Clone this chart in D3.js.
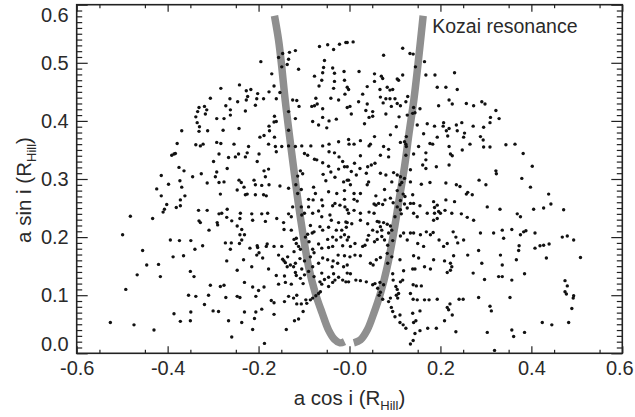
<!DOCTYPE html>
<html>
<head>
<meta charset="utf-8">
<script src="https://cdn.jsdelivr.net/npm/d3@7"></script>
<style>
  body { margin: 0; background: #fff; }
  svg text { font-family: "Liberation Sans", Arial, Helvetica, sans-serif; fill: #2a2a2a; }
</style>
</head>
<body>
<div id="chart"></div>
<script>
// axis ticks and labels
var xTicks = [-0.6, -0.4, -0.2, 0.0, 0.2, 0.4, 0.6];
var xTickLabels = ["-0.6", "-0.4", "-0.2", "-0.0", "0.2", "0.4", "0.6"];
var yTicks = [0.0, 0.1, 0.2, 0.3, 0.4, 0.5, 0.6];
var yTickLabels = ["0.0", "0.1", "0.2", "0.3", "0.4", "0.5", "0.6"];

// Kozai resonance boundary, two branches [a cos i, a sin i]
var kozaiLeft = [[-0.165, 0.581], [-0.156, 0.539], [-0.149, 0.493], [-0.1415, 0.436], [-0.1327, 0.379],
  [-0.1232, 0.321], [-0.1136, 0.264], [-0.1026, 0.2065], [-0.090, 0.149], [-0.075, 0.103],
  [-0.060, 0.069], [-0.046, 0.040], [-0.033, 0.024], [-0.021, 0.018], [-0.011, 0.020]];
var kozaiRight = [[0.162, 0.581], [0.158, 0.551], [0.150, 0.493], [0.1415, 0.436], [0.131, 0.379],
  [0.121, 0.321], [0.109, 0.264], [0.097, 0.2065], [0.083, 0.149], [0.068, 0.103],
  [0.0535, 0.069], [0.039, 0.040], [0.024, 0.023], [0.0095, 0.018]];

// particles [a cos i, a sin i] (left half)
var pointsLeft = [
  [-0.008,0.535],[-0.022,0.532],[-0.048,0.531],[-0.066,0.528],[-0.035,0.523],[-0.119,0.521],[-0.132,0.518],[-0.147,0.516],
  [-0.156,0.509],[-0.134,0.506],[-0.055,0.504],[-0.195,0.502],[-0.137,0.497],[-0.057,0.492],[-0.149,0.493],[-0.037,0.491],[-0.112,0.489],
  [-0.012,0.485],[-0.059,0.483],[-0.033,0.482],[-0.171,0.481],[-0.077,0.477],[-0.061,0.470],[-0.033,0.468],[-0.011,0.470],
  [-0.242,0.462],[-0.166,0.460],[-0.067,0.460],[-0.283,0.456],[-0.035,0.456],[-0.002,0.454],[-0.217,0.454],[-0.227,0.452],
  [-0.177,0.450],[-0.202,0.447],[-0.153,0.449],[-0.010,0.446],[-0.224,0.442],[-0.306,0.439],[-0.263,0.438],[-0.189,0.438],
  [-0.161,0.438],[-0.204,0.438],[-0.074,0.439],[-0.041,0.439],[-0.227,0.436],[-0.125,0.436],[-0.116,0.435],[-0.024,0.436],
  [-0.246,0.433],[-0.071,0.429],[-0.207,0.427],[-0.272,0.426],[-0.077,0.426],[-0.083,0.425],[-0.111,0.425],[-0.319,0.425],
  [-0.005,0.423],[-0.331,0.423],[-0.059,0.421],[-0.229,0.417],[-0.262,0.419],[-0.314,0.419],[-0.334,0.416],[-0.134,0.416],
  [-0.317,0.412],[-0.262,0.410],[-0.165,0.408],[-0.338,0.407],[-0.059,0.406],[-0.292,0.404],[-0.276,0.404],[-0.119,0.404],
  [-0.029,0.403],[-0.166,0.398],[-0.161,0.399],[-0.335,0.397],[-0.081,0.399],[-0.045,0.400],[-0.068,0.393],[-0.330,0.390],
  [-0.177,0.391],[-0.243,0.387],[-0.050,0.388],[-0.176,0.383],[-0.134,0.384],[-0.369,0.383],[-0.331,0.382],[-0.312,0.383],[-0.278,0.384],
  [-0.165,0.372],[-0.197,0.372],[-0.188,0.375],[-0.178,0.360],[-0.163,0.356],[-0.161,0.347],[-0.149,0.356],[-0.134,0.357],
  [-0.119,0.356],[-0.105,0.357],[-0.099,0.344],[-0.092,0.341],[-0.085,0.357],[-0.059,0.357],[-0.045,0.360],[-0.024,0.364],
  [-0.001,0.360],[-0.379,0.361],[-0.338,0.359],[-0.328,0.357],[-0.322,0.360],[-0.292,0.363],[-0.283,0.361],[-0.287,0.343],
  [-0.254,0.360],[-0.222,0.356],[-0.225,0.345],[-0.199,0.343],[-0.251,0.338],[-0.266,0.337],[-0.299,0.330],[-0.269,0.318],
  [-0.292,0.312],[-0.244,0.343],[-0.229,0.338],[-0.386,0.343],[-0.391,0.341],[-0.383,0.344],[-0.077,0.334],[-0.072,0.333],
  [-0.045,0.347],[-0.033,0.345],[-0.023,0.338],[-0.015,0.330],[-0.011,0.321],[-0.024,0.317],[-0.046,0.322],[-0.059,0.328],
  [-0.375,0.320],[-0.364,0.314],[-0.345,0.304],[-0.326,0.309],[-0.295,0.304],[-0.414,0.306],[-0.424,0.283],[-0.398,0.291],
  [-0.373,0.297],[-0.369,0.286],[-0.313,0.293],[-0.287,0.294],[-0.276,0.295],[-0.243,0.298],[-0.238,0.294],[-0.247,0.281],
  [-0.232,0.286],[-0.225,0.274],[-0.210,0.298],[-0.207,0.290],[-0.188,0.314],[-0.178,0.317],[-0.203,0.330],[-0.185,0.304],
  [-0.193,0.289],[-0.177,0.290],[-0.183,0.271],[-0.189,0.273],[-0.207,0.273],[-0.229,0.273],[-0.284,0.274],[-0.362,0.271],
  [-0.414,0.271],[-0.372,0.264],[-0.153,0.288],[-0.134,0.284],[-0.114,0.305],[-0.108,0.314],[-0.103,0.309],[-0.118,0.290],
  [-0.114,0.275],[-0.106,0.282],[-0.079,0.286],[-0.075,0.275],[-0.080,0.264],[-0.090,0.265],[-0.058,0.308],[-0.052,0.297],
  [-0.041,0.312],[-0.032,0.303],[-0.013,0.295],[-0.002,0.298],[-0.011,0.280],[-0.028,0.275],[-0.046,0.278],[-0.011,0.265],
  [-0.032,0.258],[-0.061,0.264],
  [-0.372,0.254],[-0.381,0.251],[-0.402,0.256],[-0.407,0.248],[-0.410,0.243],[-0.433,0.232],[-0.482,0.236],[-0.332,0.246],
  [-0.331,0.228],[-0.313,0.246],[-0.328,0.225],[-0.287,0.240],[-0.291,0.225],[-0.281,0.241],[-0.269,0.248],[-0.259,0.228],
  [-0.270,0.234],[-0.241,0.232],[-0.240,0.241],[-0.247,0.219],[-0.237,0.213],[-0.215,0.240],[-0.213,0.229],[-0.193,0.240],
  [-0.185,0.227],[-0.180,0.241],[-0.160,0.232],[-0.145,0.225],[-0.134,0.240],[-0.125,0.252],[-0.128,0.235],[-0.128,0.212],
  [-0.144,0.213],[-0.106,0.252],[-0.105,0.238],[-0.099,0.241],[-0.090,0.252],[-0.081,0.241],[-0.068,0.245],[-0.059,0.254],
  [-0.037,0.254],[-0.021,0.255],[-0.010,0.252],[-0.002,0.241],[-0.008,0.226],[-0.024,0.225],[-0.040,0.229],[-0.043,0.238],
  [-0.061,0.235],[-0.065,0.218],[-0.059,0.212],[-0.046,0.217],[-0.029,0.212],[-0.017,0.212],[-0.007,0.217],[-0.086,0.220],
  [-0.078,0.209],[-0.082,0.207],
  [-0.499,0.204],[-0.455,0.177],[-0.446,0.152],[-0.420,0.153],[-0.416,0.132],[-0.467,0.135],[-0.394,0.195],[-0.388,0.166],
  [-0.374,0.194],[-0.365,0.168],[-0.349,0.194],[-0.340,0.179],[-0.323,0.185],[-0.309,0.212],[-0.290,0.221],[-0.273,0.190],
  [-0.262,0.179],[-0.260,0.190],[-0.242,0.189],[-0.237,0.195],[-0.231,0.204],[-0.241,0.204],[-0.219,0.181],[-0.203,0.185],
  [-0.202,0.182],[-0.204,0.169],[-0.199,0.173],[-0.191,0.164],[-0.183,0.184],[-0.181,0.188],[-0.166,0.184],[-0.149,0.184],
  [-0.156,0.169],[-0.147,0.162],[-0.141,0.156],[-0.136,0.166],[-0.122,0.196],[-0.117,0.198],[-0.117,0.189],[-0.112,0.184],
  [-0.122,0.175],[-0.108,0.179],[-0.097,0.200],[-0.092,0.205],[-0.089,0.192],[-0.081,0.179],[-0.078,0.173],[-0.086,0.166],
  [-0.099,0.159],[-0.109,0.163],[-0.119,0.155],[-0.123,0.149],[-0.130,0.152],[-0.137,0.149],[-0.144,0.159],[-0.068,0.188],
  [-0.061,0.181],[-0.048,0.196],[-0.037,0.200],[-0.029,0.195],[-0.019,0.200],[-0.011,0.204],[-0.002,0.200],[-0.015,0.185],
  [-0.037,0.184],[-0.046,0.182],[-0.025,0.169],[-0.011,0.168],[-0.036,0.159],[-0.048,0.161],[-0.059,0.164],[-0.068,0.155],
  [-0.026,0.155],[-0.038,0.149],[-0.013,0.149],
  [-0.270,0.159],[-0.247,0.143],[-0.233,0.161],[-0.215,0.149],[-0.178,0.145],[-0.161,0.134],[-0.143,0.133],[-0.119,0.139],
  [-0.117,0.134],[-0.105,0.145],[-0.099,0.135],[-0.090,0.141],[-0.081,0.149],[-0.078,0.132],[-0.061,0.138],[-0.055,0.127],
  [-0.046,0.131],[-0.035,0.137],[-0.024,0.131],[-0.015,0.126],[-0.008,0.123],[-0.002,0.123],[-0.350,0.141],[-0.342,0.132],
  [-0.306,0.117],[-0.284,0.115],[-0.276,0.117],[-0.231,0.122],[-0.213,0.114],[-0.188,0.114],[-0.200,0.108],[-0.156,0.119],
  [-0.141,0.122],[-0.128,0.119],[-0.108,0.129],[-0.102,0.120],[-0.065,0.123],[-0.061,0.119],[-0.046,0.115],[-0.037,0.122],
  [-0.032,0.126],[-0.492,0.110],[-0.354,0.100],[-0.338,0.098],[-0.310,0.100],[-0.272,0.096],[-0.247,0.098],[-0.241,0.096],
  [-0.206,0.098],[-0.172,0.091],[-0.166,0.087],[-0.143,0.089],[-0.134,0.098],[-0.123,0.095],[-0.116,0.100],[-0.116,0.085],
  [-0.106,0.085],[-0.096,0.092],[-0.094,0.086],[-0.086,0.092],[-0.081,0.095],[-0.074,0.099],[-0.068,0.103],[-0.064,0.106],
  [-0.319,0.084],[-0.300,0.073],[-0.288,0.072],[-0.231,0.071],[-0.206,0.071],[-0.193,0.076],[-0.166,0.067],[-0.102,0.072],
  [-0.386,0.068],[-0.349,0.071],[-0.350,0.056],[-0.372,0.055],[-0.266,0.056],[-0.237,0.053],[-0.209,0.060],[-0.121,0.056],
  [-0.112,0.059],[-0.526,0.053],[-0.474,0.049],[-0.430,0.040],[-0.213,0.041],[-0.139,0.041],[-0.259,0.028],[-0.187,0.017]
];

// particles, right half
var pointsRight = [
  [0.008,0.536],[-0.005,0.535],[0.117,0.525],[0.075,0.513],[0.133,0.516],[0.140,0.515],[0.165,0.502],[0.145,0.493],
  [0.021,0.485],[0.055,0.481],[0.070,0.477],[0.073,0.473],[0.105,0.472],[0.108,0.470],[0.117,0.479],[0.168,0.479],
  [0.188,0.479],[0.231,0.483],[-0.005,0.458],[0.039,0.459],[0.055,0.468],[0.067,0.454],[0.083,0.458],[0.089,0.453],
  [0.095,0.454],[0.193,0.458],[0.212,0.458],[0.237,0.454],
  [0.029,0.446],[0.068,0.441],[0.080,0.438],[0.089,0.438],[0.100,0.438],[0.128,0.442],[0.020,0.433],[0.001,0.425],
  [0.039,0.429],[0.074,0.431],[0.092,0.425],[0.105,0.430],[0.112,0.426],[0.124,0.433],[0.141,0.423],[0.155,0.421],
  [0.196,0.426],[0.219,0.436],[0.226,0.429],[0.257,0.430],[0.273,0.426],[0.291,0.433],[0.298,0.429],[0.004,0.412],
  [0.036,0.418],[0.043,0.406],[0.051,0.408],[0.051,0.416],[0.080,0.412],[0.109,0.407],[0.127,0.410],[0.139,0.413],
  [0.144,0.414],[0.322,0.418],[0.310,0.406],[0.329,0.404],[0.187,0.391],[0.206,0.391],[0.213,0.383],[0.219,0.387],
  [0.207,0.397],[0.235,0.393],[0.247,0.397],[0.237,0.383],[0.272,0.391],[0.295,0.389],[0.309,0.397],[0.103,0.390],
  [0.033,0.395],[0.171,0.395],[0.149,0.393],
  [0.010,0.360],[-0.002,0.368],[0.024,0.366],[0.043,0.357],[0.046,0.360],[0.055,0.373],[0.075,0.356],[0.086,0.351],
  [0.086,0.338],[0.090,0.376],[0.112,0.363],[0.121,0.364],[0.124,0.360],[0.125,0.373],[0.125,0.356],[0.124,0.341],
  [0.141,0.343],[0.152,0.356],[0.163,0.378],[0.168,0.345],[0.177,0.361],[0.183,0.360],[0.193,0.372],[0.216,0.374],
  [0.219,0.356],[0.222,0.343],[0.226,0.340],[0.248,0.350],[0.253,0.379],[0.251,0.372],[0.265,0.360],[0.288,0.373],
  [0.294,0.367],[0.295,0.355],[0.309,0.355],[0.344,0.359],[0.364,0.360],[0.382,0.344],[0.056,0.327],[0.048,0.324],
  [0.068,0.341],[0.011,0.327],[0.024,0.340],[0.040,0.321],[-0.005,0.321],
  [0.004,0.313],[0.015,0.307],[0.023,0.318],[0.037,0.310],[0.042,0.295],[0.039,0.290],[-0.005,0.298],[0.002,0.290],
  [0.010,0.275],[0.024,0.275],[0.068,0.310],[0.080,0.307],[0.093,0.295],[0.097,0.311],[0.105,0.307],[0.112,0.304],
  [0.111,0.290],[0.115,0.294],[0.121,0.301],[0.134,0.316],[0.134,0.295],[0.139,0.273],[0.168,0.333],[0.161,0.324],
  [0.168,0.318],[0.158,0.291],[0.177,0.294],[0.191,0.321],[0.219,0.324],[0.212,0.293],[0.235,0.290],[0.243,0.287],
  [0.260,0.277],[0.257,0.274],[0.270,0.273],[0.285,0.298],[0.300,0.290],[0.322,0.314],[0.323,0.309],[0.379,0.301],
  [0.402,0.322],[0.398,0.286],[0.438,0.274],[0.010,0.265],[0.017,0.262],[0.058,0.271],[0.077,0.282],[0.078,0.264],
  [0.090,0.267],[0.105,0.280],[0.118,0.274],[0.122,0.270],
  [-0.005,0.247],[0.010,0.246],[0.024,0.241],[0.043,0.243],[0.054,0.257],[0.058,0.255],[0.064,0.258],[0.073,0.256],
  [0.096,0.259],[0.112,0.263],[0.121,0.257],[0.134,0.258],[0.141,0.258],[0.112,0.247],[0.114,0.240],[0.100,0.235],
  [0.105,0.252],[0.127,0.250],[0.141,0.241],[0.149,0.235],[0.155,0.254],[0.171,0.241],[0.185,0.261],[0.187,0.251],
  [0.193,0.255],[0.187,0.241],[0.193,0.232],[0.185,0.229],[0.196,0.244],[0.212,0.264],[0.231,0.261],[0.225,0.241],
  [0.210,0.246],[0.200,0.241],[0.246,0.240],[0.259,0.234],[0.273,0.229],[0.303,0.252],[0.331,0.248],[0.369,0.240],
  [0.376,0.235],[0.405,0.248],[0.427,0.250],[0.443,0.257],[0.471,0.247],[-0.005,0.225],[0.005,0.223],[0.024,0.229],
  [0.040,0.223],[0.054,0.241],[0.051,0.212],[0.061,0.227],[0.065,0.226],[0.068,0.218],[0.071,0.212],[0.061,0.209],
  [0.075,0.225],[0.083,0.222],[0.090,0.219],[0.093,0.212],
  [-0.005,0.195],[0.002,0.184],[0.012,0.189],[0.029,0.184],[0.034,0.186],[0.039,0.195],[0.042,0.203],[0.055,0.192],
  [0.061,0.196],[0.071,0.201],[0.077,0.195],[0.084,0.186],[0.086,0.207],[0.095,0.194],[0.112,0.202],[0.119,0.207],
  [0.127,0.195],[0.134,0.207],[0.141,0.207],[0.150,0.189],[0.156,0.204],[0.163,0.184],[0.169,0.209],[0.178,0.204],
  [0.184,0.208],[0.197,0.195],[0.207,0.184],[0.215,0.189],[0.228,0.209],[0.234,0.200],[0.238,0.190],[0.251,0.195],
  [0.284,0.177],[0.288,0.207],[0.317,0.207],[0.339,0.198],[0.336,0.212],[0.357,0.213],[0.373,0.185],[0.376,0.204],
  [0.383,0.209],[0.388,0.211],[0.408,0.207],[0.408,0.181],[0.419,0.185],[0.427,0.186],[0.439,0.188],[0.468,0.200],
  [0.479,0.202],[0.493,0.195],[0.508,0.165],[0.433,0.164],[0.372,0.177],[0.367,0.161],[0.336,0.152],[0.332,0.169],
  [0.291,0.155],[0.260,0.169],[0.229,0.168],[0.222,0.155],[0.209,0.159],[0.185,0.161],[0.152,0.164],[0.141,0.168],
  [0.111,0.161],[0.093,0.166],[0.084,0.155],[0.083,0.172],[0.068,0.165],[0.059,0.161],[0.052,0.152],[0.046,0.155],
  [0.024,0.168],[0.012,0.169],[0.001,0.166],[-0.005,0.152],
  [-0.005,0.138],[0.002,0.137],[0.014,0.126],[0.024,0.125],[0.037,0.123],[0.051,0.118],[0.056,0.120],[0.067,0.122],
  [0.062,0.112],[0.065,0.100],[0.068,0.105],[0.075,0.118],[0.095,0.137],[0.096,0.126],[0.102,0.115],[0.105,0.110],
  [0.112,0.123],[0.117,0.126],[0.108,0.103],[0.119,0.142],[0.139,0.145],[0.144,0.145],[0.165,0.149],[0.178,0.145],
  [0.140,0.118],[0.147,0.116],[0.158,0.116],[0.103,0.100],[0.106,0.095],[0.134,0.103],[0.140,0.093],[0.149,0.092],
  [0.165,0.092],[0.175,0.092],[0.193,0.093],[0.215,0.139],[0.222,0.143],[0.225,0.149],[0.241,0.093],[0.250,0.093],
  [0.272,0.138],[0.284,0.096],[0.297,0.127],[0.328,0.132],[0.336,0.132],[0.353,0.096],[0.357,0.126],[0.385,0.137],
  [0.474,0.125],[0.479,0.116],[0.474,0.106],[0.477,0.102],[0.492,0.095],[0.493,0.099],[0.090,0.095],[0.086,0.089],
  [0.073,0.093],
  [0.092,0.079],[0.095,0.072],[0.100,0.063],[0.111,0.066],[0.111,0.053],[0.118,0.049],[0.124,0.043],[0.139,0.069],
  [0.146,0.056],[0.155,0.073],[0.141,0.053],[0.144,0.034],[0.140,0.022],[0.134,0.016],[0.155,0.039],[0.172,0.043],
  [0.191,0.043],[0.209,0.056],[0.215,0.079],[0.218,0.075],[0.226,0.066],[0.221,0.085],[0.234,0.037],[0.309,0.081],
  [0.312,0.073],[0.303,0.036],[0.319,0.005],[0.357,0.040],[0.361,0.029],[0.385,0.036],[0.424,0.053],[0.445,0.049],
  [0.482,0.053],[0.489,0.077]
];

var points = pointsLeft.concat(pointsRight);

var chart_width = 635;
var chart_height = 417;
var plot = { left: 76.7, right: 622.3, top: 4.7, bottom: 353.3 };

var svg = d3.select('#chart')
  .append('svg')
  .attr('width', chart_width)
  .attr('height', chart_height);

// scales
var x = d3.scaleLinear().domain([-0.6, 0.6]).range([plot.left, plot.right]);
var y = d3.scaleLinear().domain([0, 0.6]).range([plot.bottom, plot.top]);

// Kozai curve (below the particles)
var line = d3.line()
  .x(function(d) { return x(d[0]); })
  .y(function(d) { return y(d[1]); })
  .curve(d3.curveCatmullRom);

svg.selectAll('path.kozai')
  .data([kozaiLeft, kozaiRight])
  .enter()
  .append('path')
  .attr('class', 'kozai')
  .attr('d', line)
  .attr('fill', 'none')
  .attr('stroke', '#8f8f8f')
  .attr('stroke-width', 7.5)
  .attr('stroke-linecap', 'butt');

// particles
svg.selectAll('circle')
  .data(points)
  .enter()
  .append('circle')
  .attr('cx', function(d) { return x(d[0]); })
  .attr('cy', function(d) { return y(d[1]); })
  .attr('r', 1.7)
  .attr('fill', '#111');

// minor tick positions
var xMinor = d3.range(-0.55, 0.6, 0.1);
var yMinor = d3.range(0, 61).map(function(i) { return i / 100; })
  .filter(function(v) { return Math.round(v * 100) % 10 != 0; });

function addAxis(axis, tx, ty) {
  var g = svg.append('g')
    .attr('transform', 'translate(' + tx + ',' + ty + ')')
    .call(axis);
  g.select('.domain').remove();
  g.selectAll('line').attr('stroke', '#222').attr('stroke-width', 1.2);
  return g;
}

// bottom / top
var xb = addAxis(d3.axisBottom(x).tickValues(xTicks).tickSize(-7).tickPadding(8)
  .tickFormat(function(d, i) { return xTickLabels[i]; }), 0, plot.bottom);
addAxis(d3.axisBottom(x).tickValues(xMinor).tickSize(-3.5).tickFormat(''), 0, plot.bottom);
addAxis(d3.axisTop(x).tickValues(xTicks).tickSize(-7).tickFormat(''), 0, plot.top);
addAxis(d3.axisTop(x).tickValues(xMinor).tickSize(-3.5).tickFormat(''), 0, plot.top);

// left / right
var yl = addAxis(d3.axisLeft(y).tickValues(yTicks).tickSize(-11).tickPadding(8)
  .tickFormat(function(d, i) { return yTickLabels[i]; }), plot.left, 0);
addAxis(d3.axisLeft(y).tickValues(yMinor).tickSize(-5.5).tickFormat(''), plot.left, 0);
addAxis(d3.axisRight(y).tickValues(yTicks).tickSize(-11).tickFormat(''), plot.right, 0);
addAxis(d3.axisRight(y).tickValues(yMinor).tickSize(-5.5).tickFormat(''), plot.right, 0);

xb.selectAll('text').attr('font-size', 20).attr('fill', '#2a2a2a')
  .attr('dx', function(d) { return d == 0.6 ? -3 : 0; });  // keep last label inside the page
yl.selectAll('text').attr('font-size', 20).attr('fill', '#2a2a2a')
  .attr('dy', function(d) {
    // end labels sit inside the frame
    if (d == 0) return '-0.15em';
    if (d == 0.6) return '0.82em';
    return '0.32em';
  });

// frame
svg.append('rect')
  .attr('x', plot.left)
  .attr('y', plot.top)
  .attr('width', plot.right - plot.left)
  .attr('height', plot.bottom - plot.top)
  .attr('fill', 'none')
  .attr('stroke', '#222')
  .attr('stroke-width', 1.6);

// curve label
svg.append('text')
  .attr('x', x(0.182))
  .attr('y', 33)
  .attr('font-size', 19.5)
  .text('Kozai resonance');

// axis titles
var xt = svg.append('text')
  .attr('x', (plot.left + plot.right) / 2)
  .attr('y', 405)
  .attr('text-anchor', 'middle')
  .attr('font-size', 20.5);
xt.append('tspan').text('a cos i (R');
xt.append('tspan').attr('font-size', 13).attr('dy', 5).text('Hill');
xt.append('tspan').attr('dy', -5).text(')');

var yt = svg.append('text')
  .attr('transform', 'translate(31,' + 190 + ') rotate(-90)')
  .attr('text-anchor', 'middle')
  .attr('font-size', 20.5);
yt.append('tspan').text('a sin i (R');
yt.append('tspan').attr('font-size', 13).attr('dy', 5).text('Hill');
yt.append('tspan').attr('dy', -5).text(')');
</script>
</body>
</html>
